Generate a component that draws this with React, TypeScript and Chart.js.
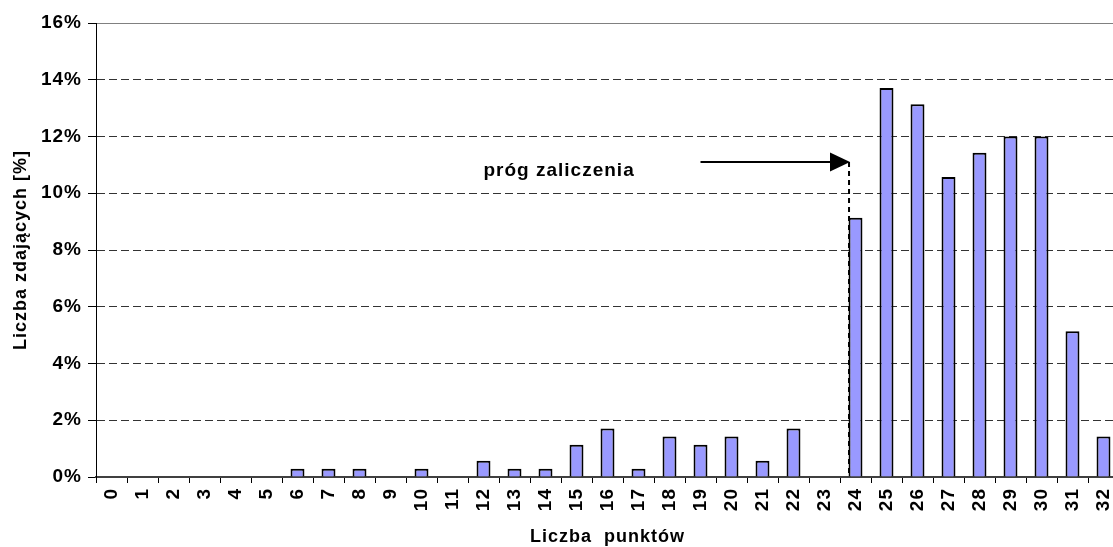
import React, { useEffect, useRef } from 'react';
import { Chart, registerables } from 'chart.js';

Chart.register(...registerables);

// ---- data ----
const categories: string[] = [
  '0', '1', '2', '3', '4', '5', '6', '7', '8', '9', '10', '11', '12', '13', '14', '15', '16',
  '17', '18', '19', '20', '21', '22', '23', '24', '25', '26', '27', '28', '29', '30', '31', '32',
];
const percentValues: number[] = [
  0, 0, 0, 0, 0, 0, 0.29, 0.29, 0.29, 0, 0.29, 0, 0.57, 0.29, 0.29, 1.14, 1.71,
  0.29, 1.43, 1.14, 1.43, 0.57, 1.71, 0, 9.14, 13.71, 13.14, 10.57, 11.43, 12.0, 12.0, 5.14, 1.43,
];
const yTickValues: number[] = [0, 2, 4, 6, 8, 10, 12, 14, 16];
const yTitle = 'Liczba zdających [%]';
const xTitle = 'Liczba  punktów';
const annotationText = 'próg zaliczenia';
const thresholdCategory = 24;
const arrowLevel = 11.1;
const arrowStartCategory = 19;
const textCategory = 12;
const textLevel = 10.6;

const FONT = "'Liberation Sans', Arial, sans-serif";
const FSIZE = 19;
const TITLE_SIZE = 18;

const spacingPlugin = {
  id: 'letterSpacing',
  beforeInit(chart: any) {
    try {
      chart.ctx.letterSpacing = '1px';
    } catch (e) {}
  },
  beforeDraw(chart: any) {
    try {
      chart.ctx.letterSpacing = '1px';
    } catch (e) {}
  },
};

const annotationPlugin = {
  id: 'thresholdArrow',
  afterDatasetsDraw(chart: any) {
    const { ctx, scales } = chart;
    const x = scales.x;
    const y = scales.y;
    const bar = chart.getDatasetMeta(0).data[thresholdCategory];
    const lineX = bar.x - bar.width / 2 + 0.5;
    const ay = y.getPixelForValue(arrowLevel);
    const sx = x.getPixelForValue(arrowStartCategory);
    const headLen = 19;
    const headHalf = 9.5;
    ctx.save();
    ctx.strokeStyle = '#000';
    ctx.fillStyle = '#000';
    ctx.lineWidth = 2;
    ctx.beginPath();
    ctx.moveTo(sx, ay);
    ctx.lineTo(lineX - headLen + 2, ay);
    ctx.stroke();
    ctx.beginPath();
    ctx.moveTo(lineX + 1, ay);
    ctx.lineTo(lineX - headLen, ay - headHalf);
    ctx.lineTo(lineX - headLen, ay + headHalf);
    ctx.closePath();
    ctx.fill();
    ctx.setLineDash([5, 4]);
    ctx.beginPath();
    ctx.moveTo(lineX, ay);
    ctx.lineTo(lineX, y.getPixelForValue(0));
    ctx.stroke();
    ctx.setLineDash([]);
    ctx.font = `bold ${FSIZE}px ${FONT}`;
    ctx.textAlign = 'left';
    ctx.textBaseline = 'alphabetic';
    ctx.fillText(annotationText, x.getPixelForValue(textCategory), y.getPixelForValue(textLevel));
    ctx.restore();
  },
};

export default function App() {
  const canvasRef = useRef<HTMLCanvasElement | null>(null);

  useEffect(() => {
    document.body.style.margin = '0';
    const canvas = canvasRef.current;
    if (!canvas) return;
    const chart = new Chart(canvas, {
      type: 'bar',
      data: {
        labels: categories,
        datasets: [
          {
            data: percentValues,
            backgroundColor: '#9999FF',
            borderColor: '#000000',
            borderWidth: 2,
            barPercentage: 0.45,
            categoryPercentage: 1,
          },
        ],
      },
      options: {
        animation: false,
        responsive: false,
        maintainAspectRatio: false,
        devicePixelRatio: 1,
        layout: { padding: { top: 23, right: 0, bottom: 0, left: 0 } },
        plugins: {
          legend: { display: false },
          tooltip: { enabled: false },
        },
        scales: {
          x: {
            offset: true,
            grid: {
              offset: true,
              drawOnChartArea: false,
              drawTicks: true,
              tickLength: 6,
              tickColor: '#000',
              tickWidth: 1,
            },
            border: { display: true, color: '#404040', width: 2 },
            ticks: {
              autoSkip: false,
              minRotation: 90,
              maxRotation: 90,
              padding: 5,
              color: '#000',
              font: { family: FONT, size: FSIZE, weight: 'bold' },
            },
            title: {
              display: true,
              text: xTitle,
              color: '#000',
              font: { family: FONT, size: TITLE_SIZE, weight: 'bold', lineHeight: 1 },
              padding: { top: 0, bottom: 1 },
            },
            afterFit(scale: any) {
              scale.height = 70;
              scale.paddingLeft = 0;
              scale.paddingRight = 0;
            },
          },
          y: {
            min: 0,
            max: 16,
            afterBuildTicks(scale: any) {
              scale.ticks = yTickValues.map((v) => ({ value: v }));
            },
            grid: {
              color: (c: any) => {
                const v = c.tick ? c.tick.value : -1;
                if (v === 16) return '#808080';
                if (v === 0) return 'rgba(0,0,0,0)';
                return '#333333';
              },
              lineWidth: 1,
              tickLength: 8,
              tickColor: '#000',
            },
            border: {
              display: true,
              color: '#000',
              width: 1,
              dash: (c: any) => {
                const v = c.tick ? c.tick.value : -1;
                if (v === 16 || v === -1) return [];
                return [8, 4];
              },
            },
            ticks: {
              padding: 6,
              color: '#000',
              font: { family: FONT, size: FSIZE, weight: 'bold' },
              callback: (v: any) => `${v}%`,
            },
            title: {
              display: true,
              text: yTitle,
              color: '#000',
              font: { family: FONT, size: TITLE_SIZE, weight: 'bold', lineHeight: 1 },
              padding: { top: 12, bottom: 0 },
            },
            afterFit(scale: any) {
              scale.width = 96;
            },
          },
        },
      },
      plugins: [spacingPlugin, annotationPlugin],
    });
    return () => {
      chart.destroy();
    };
  }, []);

  return (
    <div style={{ width: 1113, height: 547, overflow: 'hidden', position: 'relative' }}>
      <canvas ref={canvasRef} width={1119} height={547} style={{ display: 'block' }} />
    </div>
  );
}
